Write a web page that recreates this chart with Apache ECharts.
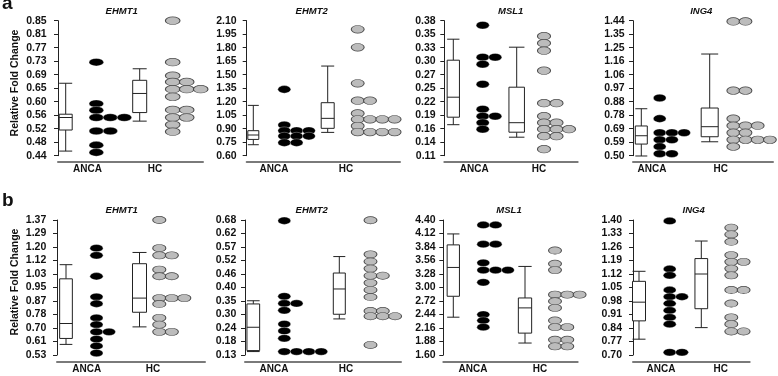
<!DOCTYPE html>
<html>
<head>
<meta charset="utf-8">
<script src="https://cdn.jsdelivr.net/npm/echarts@6/dist/echarts.min.js"></script>
<style>
  html, body { margin: 0; padding: 0; background: #fff; }
  #chart { width: 778px; height: 376px; }
</style>
</head>
<body>
<div id="chart"></div>
<script>
// categories
const genes = ['EHMT1', 'EHMT2', 'MSL1', 'ING4'];
const groups = ['ANCA', 'HC'];
const rowLetters = ['a', 'b'];
const yName = 'Relative Fold Change';

// tick labels (11 evenly spaced ticks per panel)
const ticksA1 = ['0.44', '0.48', '0.52', '0.56', '0.60', '0.65', '0.69', '0.73', '0.77', '0.81', '0.85'];
const ticksA2 = ['0.60', '0.75', '0.90', '1.05', '1.20', '1.35', '1.50', '1.65', '1.80', '1.95', '2.10'];
const ticksA3 = ['0.11', '0.14', '0.16', '0.19', '0.22', '0.25', '0.27', '0.30', '0.33', '0.35', '0.38'];
const ticksA4 = ['0.50', '0.59', '0.69', '0.78', '0.88', '0.97', '1.06', '1.16', '1.25', '1.35', '1.44'];
const ticksB1 = ['0.53', '0.61', '0.70', '0.78', '0.87', '0.95', '1.03', '1.12', '1.20', '1.29', '1.37'];
const ticksB2 = ['0.13', '0.18', '0.24', '0.30', '0.35', '0.40', '0.46', '0.52', '0.57', '0.62', '0.68'];
const ticksB3 = ['1.60', '1.88', '2.16', '2.44', '2.72', '3.00', '3.28', '3.56', '3.84', '4.12', '4.40'];
const ticksB4 = ['0.70', '0.77', '0.84', '0.91', '0.98', '1.05', '1.12', '1.19', '1.26', '1.33', '1.40'];

// box values: [min, q1, median, q3, max]
const boxA1Anca = [0.454, 0.518, 0.556, 0.566, 0.660];
const boxA1Hc = [0.545, 0.571, 0.629, 0.669, 0.704];
const boxA2Anca = [0.722, 0.781, 0.830, 0.878, 1.159];
const boxA2Hc = [0.859, 0.904, 1.015, 1.189, 1.596];
const boxA3Anca = [0.172, 0.187, 0.227, 0.301, 0.343];
const boxA3Hc = [0.147, 0.157, 0.176, 0.247, 0.327];
const boxA4Anca = [0.498, 0.581, 0.639, 0.707, 0.827];
const boxA4Hc = [0.597, 0.632, 0.702, 0.832, 1.208];
const boxB1Anca = [0.596, 0.633, 0.726, 1.004, 1.092];
const boxB1Hc = [0.705, 0.796, 0.884, 1.098, 1.168];
const boxB2Anca = [0.144, 0.148, 0.243, 0.338, 0.351];
const boxB2Hc = [0.277, 0.296, 0.399, 0.464, 0.531];
const boxB3Anca = [2.384, 2.818, 3.416, 3.884, 4.111];
const boxB3Hc = [1.848, 2.054, 2.577, 2.783, 3.437];
const boxB4Anca = [0.782, 0.877, 0.974, 1.082, 1.134];
const boxB4Hc = [0.842, 0.940, 1.120, 1.200, 1.291];

// individual samples
const dotsA1Anca = [0.724, 0.598, 0.578, 0.556, 0.556, 0.556, 0.515, 0.515, 0.472, 0.450];
const dotsA1Hc = [0.850, 0.724, 0.683, 0.664, 0.664, 0.642, 0.642, 0.642, 0.619, 0.579, 0.579, 0.556, 0.556, 0.534, 0.513];
const dotsA2Anca = [1.337, 0.941, 0.878, 0.878, 0.878, 0.818, 0.818, 0.818, 0.745, 0.745];
const dotsA2Hc = [2.004, 1.804, 1.404, 1.211, 1.211, 1.070, 1.004, 1.004, 1.004, 1.004, 0.930, 0.863, 0.863, 0.863, 0.863];
const dotsA3Anca = [0.371, 0.307, 0.307, 0.293, 0.253, 0.203, 0.189, 0.189, 0.176, 0.163];
const dotsA3Hc = [0.349, 0.335, 0.320, 0.280, 0.215, 0.215, 0.189, 0.176, 0.176, 0.163, 0.163, 0.163, 0.149, 0.149, 0.123];
const dotsA4Anca = [0.902, 0.758, 0.660, 0.660, 0.660, 0.611, 0.611, 0.563, 0.514, 0.514];
const dotsA4Hc = [1.435, 1.435, 0.953, 0.953, 0.758, 0.709, 0.709, 0.709, 0.660, 0.660, 0.611, 0.611, 0.611, 0.611, 0.563];
const dotsB1Anca = [1.195, 1.150, 1.020, 0.892, 0.849, 0.761, 0.719, 0.674, 0.674, 0.629, 0.586, 0.542];
const dotsB1Hc = [1.370, 1.195, 1.150, 1.150, 1.061, 1.020, 1.020, 0.884, 0.884, 0.884, 0.847, 0.761, 0.719, 0.674, 0.674];
const dotsB2Anca = [0.677, 0.369, 0.340, 0.340, 0.312, 0.256, 0.228, 0.198, 0.144, 0.144, 0.144, 0.144];
const dotsB2Hc = [0.679, 0.540, 0.511, 0.482, 0.453, 0.453, 0.424, 0.395, 0.366, 0.309, 0.309, 0.288, 0.288, 0.288, 0.171];
const dotsB3Anca = [4.297, 4.297, 3.898, 3.898, 3.512, 3.361, 3.361, 3.361, 3.107, 2.439, 2.315, 2.178];
const dotsB3Hc = [3.767, 3.492, 3.361, 2.852, 2.852, 2.852, 2.714, 2.577, 2.315, 2.178, 2.178, 1.916, 1.916, 1.779, 1.779];
const dotsB4Anca = [1.395, 1.146, 1.113, 1.037, 1.002, 1.002, 0.967, 0.931, 0.895, 0.860, 0.714, 0.714];
const dotsB4Hc = [1.360, 1.325, 1.287, 1.218, 1.183, 1.183, 1.148, 1.113, 1.037, 1.037, 0.967, 0.895, 0.860, 0.822, 0.822];

// layout (pixels)
const rowLayout = [
  { top: 20.7, bottom: 155.7, baseY: 161.7, titleY: 11.7, letterY: 3.5, nameY: 83, dotH: 7.6 },
  { top: 220, bottom: 355, baseY: 361.7, titleY: 210, letterY: 201, nameY: 282, dotH: 7.3 }
];
const panelLayout = [
  { axisX: 52.7, baseL: 58, baseR: 203, boxX: [65.7, 139.7], boxW: [13, 14], dotX: [96.3, 172.7], dotW: 14, labelX: [87.5, 155], titleX: 121.7 },
  { axisX: 242.7, baseL: 246.7, baseR: 400, boxX: [253.3, 327.7], boxW: [11, 13], dotX: [284.3, 357.7], dotW: 12.3, labelX: [274, 346], titleX: 311.7 },
  { axisX: 441.7, baseL: 444.3, baseR: 577.7, boxX: [453.3, 516.7], boxW: [12.3, 15.5], dotX: [482.7, 544], dotW: 12.5, labelX: [474.3, 539], titleX: 510.7 },
  { axisX: 630.7, baseL: 633, baseR: 773, boxX: [641.3, 709.7], boxW: [12, 17], dotX: [659.7, 733.3], dotW: 12.2, labelX: [652, 720.7], titleX: 701.3 },
  { axisX: 52.3, baseL: 57, baseR: 205, boxX: [66, 139.5], boxW: [12.7, 14], dotX: [96.5, 159.3], dotW: 12.5, labelX: [86.7, 153], titleX: 121.7 },
  { axisX: 242.3, baseL: 245, baseR: 401, boxX: [253.3, 339.3], boxW: [12.7, 12], dotX: [284.3, 370.5], dotW: 12.3, labelX: [274, 346], titleX: 311.7 },
  { axisX: 441.7, baseL: 443.3, baseR: 577.7, boxX: [453.3, 525], boxW: [12.3, 13.3], dotX: [483.3, 555], dotW: 12.3, labelX: [473, 540], titleX: 509 },
  { axisX: 628, baseL: 633, baseR: 749.7, boxX: [639, 701.3], boxW: [13, 12.7], dotX: [669.7, 731.3], dotW: 12.3, labelX: [661, 720.7], titleX: 693.7 }
];

const panels = [
  { ticks: ticksA1, box: [boxA1Anca, boxA1Hc], dots: [dotsA1Anca, dotsA1Hc] },
  { ticks: ticksA2, box: [boxA2Anca, boxA2Hc], dots: [dotsA2Anca, dotsA2Hc] },
  { ticks: ticksA3, box: [boxA3Anca, boxA3Hc], dots: [dotsA3Anca, dotsA3Hc] },
  { ticks: ticksA4, box: [boxA4Anca, boxA4Hc], dots: [dotsA4Anca, dotsA4Hc] },
  { ticks: ticksB1, box: [boxB1Anca, boxB1Hc], dots: [dotsB1Anca, dotsB1Hc] },
  { ticks: ticksB2, box: [boxB2Anca, boxB2Hc], dots: [dotsB2Anca, dotsB2Hc] },
  { ticks: ticksB3, box: [boxB3Anca, boxB3Hc], dots: [dotsB3Anca, dotsB3Hc] },
  { ticks: ticksB4, box: [boxB4Anca, boxB4Hc], dots: [dotsB4Anca, dotsB4Hc] }
];

const FONT = 'Arial, "Liberation Sans", sans-serif';
const ellipse = 'path://M0,50 A50,50 0 1,1 100,50 A50,50 0 1,1 0,50 Z';
const dotColors = ['#000000', '#bcbcbc'];
const dotBorders = ['rgba(255,255,255,0.5)', '#4a4a4a'];

const grid = [], xAxis = [], yAxis = [], series = [], graphic = [];

panels.forEach((p, i) => {
  const row = Math.floor(i / 4);
  const rl = rowLayout[row];
  const pl = panelLayout[i];
  const lo = parseFloat(p.ticks[0]);
  const hi = parseFloat(p.ticks[p.ticks.length - 1]);
  const step = (hi - lo) / (p.ticks.length - 1);
  const tickVals = p.ticks.map((t, k) => lo + k * step);
  const width = pl.baseR - pl.baseL;
  const labelPos = pl.labelX.map(x => x - pl.baseL);

  grid.push({ left: pl.baseL, width: width, top: rl.top, height: rl.bottom - rl.top });

  xAxis.push({
    type: 'value', gridIndex: i, min: 0, max: width,
    offset: rl.baseY - rl.bottom,
    splitLine: { show: false },
    axisLine: { show: true, lineStyle: { color: '#7a7a7a', width: 2 } },
    axisTick: { show: false },
    axisLabel: {
      customValues: labelPos,
      margin: 3,
      color: '#111', fontWeight: 'bold', fontSize: 10, fontFamily: FONT,
      formatter: v => groups[v < (labelPos[0] + labelPos[1]) / 2 ? 0 : 1]
    }
  });

  yAxis.push({
    type: 'value', gridIndex: i, min: lo, max: hi,
    offset: pl.baseL - pl.axisX,
    splitLine: { show: false },
    axisLine: { show: true, lineStyle: { color: '#222', width: 1 } },
    axisTick: { show: true, customValues: tickVals, length: 4, lineStyle: { color: '#222' } },
    axisLabel: {
      customValues: tickVals,
      margin: 6,
      color: '#111', fontWeight: 'bold', fontSize: 10.5, fontFamily: FONT,
      formatter: v => p.ticks[Math.round((v - lo) / step)]
    }
  });

  // boxes
  series.push({
    type: 'custom', xAxisIndex: i, yAxisIndex: i, clip: false, silent: true,
    data: p.box.map((b, g) => [pl.boxX[g] - pl.baseL].concat(b)),
    renderItem: (params, api) => {
      const x = api.value(0);
      const w = pl.boxW[params.dataIndex];
      const h = w / 2;
      const pMin = api.coord([x, api.value(1)]);
      const pQ1 = api.coord([x, api.value(2)]);
      const pMed = api.coord([x, api.value(3)]);
      const pQ3 = api.coord([x, api.value(4)]);
      const pMax = api.coord([x, api.value(5)]);
      const cx = pMin[0];
      const ls = { stroke: '#222', lineWidth: 1, fill: null };
      return {
        type: 'group',
        children: [
          { type: 'line', shape: { x1: cx, y1: pMax[1], x2: cx, y2: pQ3[1] }, style: ls },
          { type: 'line', shape: { x1: cx, y1: pQ1[1], x2: cx, y2: pMin[1] }, style: ls },
          { type: 'line', shape: { x1: cx - h, y1: pMax[1], x2: cx + h, y2: pMax[1] }, style: ls },
          { type: 'line', shape: { x1: cx - h, y1: pMin[1], x2: cx + h, y2: pMin[1] }, style: ls },
          { type: 'rect', shape: { x: cx - h, y: pQ3[1], width: w, height: pQ1[1] - pQ3[1] },
            style: { fill: '#fff', stroke: '#222', lineWidth: 1 } },
          { type: 'line', shape: { x1: cx - h, y1: pMed[1], x2: cx + h, y2: pMed[1] }, style: ls }
        ]
      };
    }
  });

  // dots, side by side when equal
  p.dots.forEach((vals, g) => {
    const data = vals.map((v, k) => {
      const col = vals.slice(0, k).filter(u => u === v).length;
      return [pl.dotX[g] - pl.baseL + col * pl.dotW, v];
    });
    series.push({
      type: 'scatter', xAxisIndex: i, yAxisIndex: i, clip: false, silent: true,
      symbol: ellipse, symbolSize: [pl.dotW + 0.6, rl.dotH],
      itemStyle: { color: dotColors[g], borderColor: dotBorders[g], borderWidth: g === 0 ? 0.6 : 0.8, opacity: 1 },
      data: data
    });
  });

  graphic.push({
    type: 'text', x: pl.titleX, y: rl.titleY,
    style: { text: genes[i % 4], fontFamily: FONT, fontSize: 9.5, fontWeight: 'bold', fontStyle: 'italic',
      fill: '#111', align: 'center', verticalAlign: 'middle' }
  });
});

rowLayout.forEach((rl, r) => {
  graphic.push({
    type: 'text', x: 2, y: rl.letterY,
    style: { text: rowLetters[r], fontFamily: FONT, fontSize: 19, fontWeight: 'bold', fill: '#111',
      align: 'left', verticalAlign: 'middle' }
  });
  graphic.push({
    type: 'text', x: 15, y: rl.nameY, rotation: Math.PI / 2,
    style: { text: yName, fontFamily: FONT, fontSize: 10.5, fontWeight: 'bold', fill: '#111',
      align: 'center', verticalAlign: 'middle' }
  });
});

const chart = echarts.init(document.getElementById('chart'), null, { renderer: 'canvas' });
chart.setOption({
  animation: false,
  backgroundColor: '#fff',
  grid: grid,
  xAxis: xAxis,
  yAxis: yAxis,
  series: series,
  graphic: graphic
});
</script>
</body>
</html>
